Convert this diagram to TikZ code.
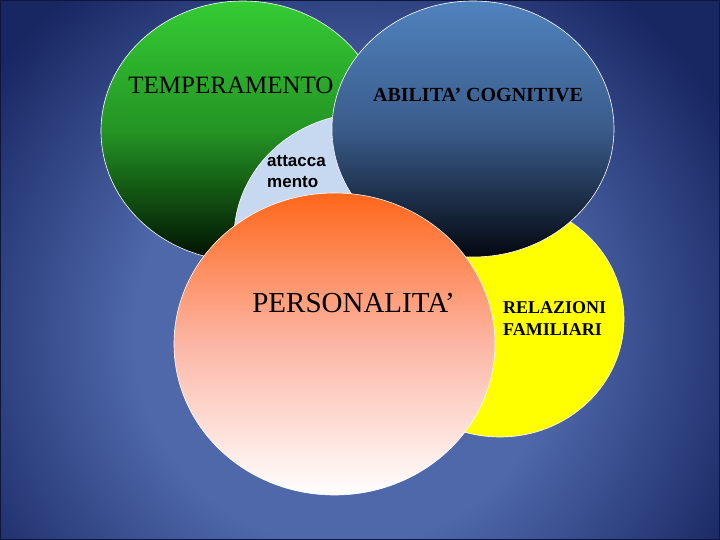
\documentclass[tikz,border=0pt]{standalone}
\usepackage{fontspec}
\setmainfont{Liberation Serif}
\newfontfamily\arialfont{Liberation Sans}
\usetikzlibrary{shapes.geometric}

\definecolor{bgin}{RGB}{78,104,170}
\definecolor{bgout}{RGB}{24,38,98}
\definecolor{tempgreen}{RGB}{52,204,52}
\definecolor{tempmid}{RGB}{36,148,36}
\definecolor{tempdark}{RGB}{0,14,0}
\definecolor{abiltop}{RGB}{80,130,190}
\definecolor{abilmid}{RGB}{58,92,138}
\definecolor{abildark}{RGB}{4,8,16}
\definecolor{attblue}{RGB}{198,217,241}
\definecolor{persorange}{RGB}{255,102,26}
\definecolor{persmid}{RGB}{252,182,165}
\definecolor{relyellow}{RGB}{255,255,0}

\pgfdeclareradialshading{slideglow}{\pgfpoint{0bp}{0bp}}{color(0bp)=(bgin); color(12bp)=(bgin); color(25bp)=(bgout); color(50bp)=(bgout)}

\tikzset{
  blob/.style={ellipse, draw=white, line width=0.6pt, inner sep=0pt},
  blobtext/.style={inner sep=0pt, text=black}
}

\begin{document}
\begin{tikzpicture}[x=1pt,y=-1pt]
  \useasboundingbox (0,0) rectangle (720,540);

  % slide background
  \fill[bgout] (0,0) rectangle (720,540);
  \begin{scope}
    \clip (0,0) rectangle (720,540);
    \shade[shading=slideglow] (345,335) circle (440);
  \end{scope}
  \draw[bgout!60!black, line width=1pt] (0.5,0.5) rectangle (719.5,539.5);

  % the five circles, back to front
  \node[blob, minimum width=284pt, minimum height=260pt,
        top color=tempgreen, bottom color=tempdark, middle color=tempmid]
        (temperamento) at (243,131) {};
  \node[blob, minimum width=268pt, minimum height=250pt, fill=attblue]
        (attaccamento) at (368,238) {};
  \node[blob, minimum width=248pt, minimum height=236pt, fill=relyellow]
        (relazioni) at (500,319) {};
  \node[blob, minimum width=282pt, minimum height=256pt,
        top color=abiltop, bottom color=abildark, middle color=abilmid]
        (abilita) at (473,129) {};
  \node[blob, minimum width=321pt, minimum height=302pt,
        top color=persorange, bottom color=white, middle color=persmid]
        (personalita) at (334.5,344) {};

  % texts (multi-line ones sit on their last line)
  \node[blobtext, anchor=base, font=\fontsize{25}{30}\selectfont]
        (temptext) at (231,94) {TEMPERAMENTO};
  \node[blobtext, anchor=base, font=\fontsize{20}{24}\selectfont\bfseries]
        (abiltext) at (478,102) {ABILITA’ COGNITIVE};
  \node[blobtext, anchor=base west, align=left,
        font=\arialfont\fontsize{17}{21}\selectfont\bfseries]
        (atttext) at (267,188) {attacca\\mento};
  \node[blobtext, anchor=base, font=\fontsize{29}{34}\selectfont]
        (perstext) at (353.5,312) {PERSONALITA’};
  \node[blobtext, anchor=base west, align=left,
        font=\fontsize{18}{22}\selectfont\bfseries]
        (reltext) at (503,335) {RELAZIONI\\FAMILIARI};
\end{tikzpicture}
\end{document}
